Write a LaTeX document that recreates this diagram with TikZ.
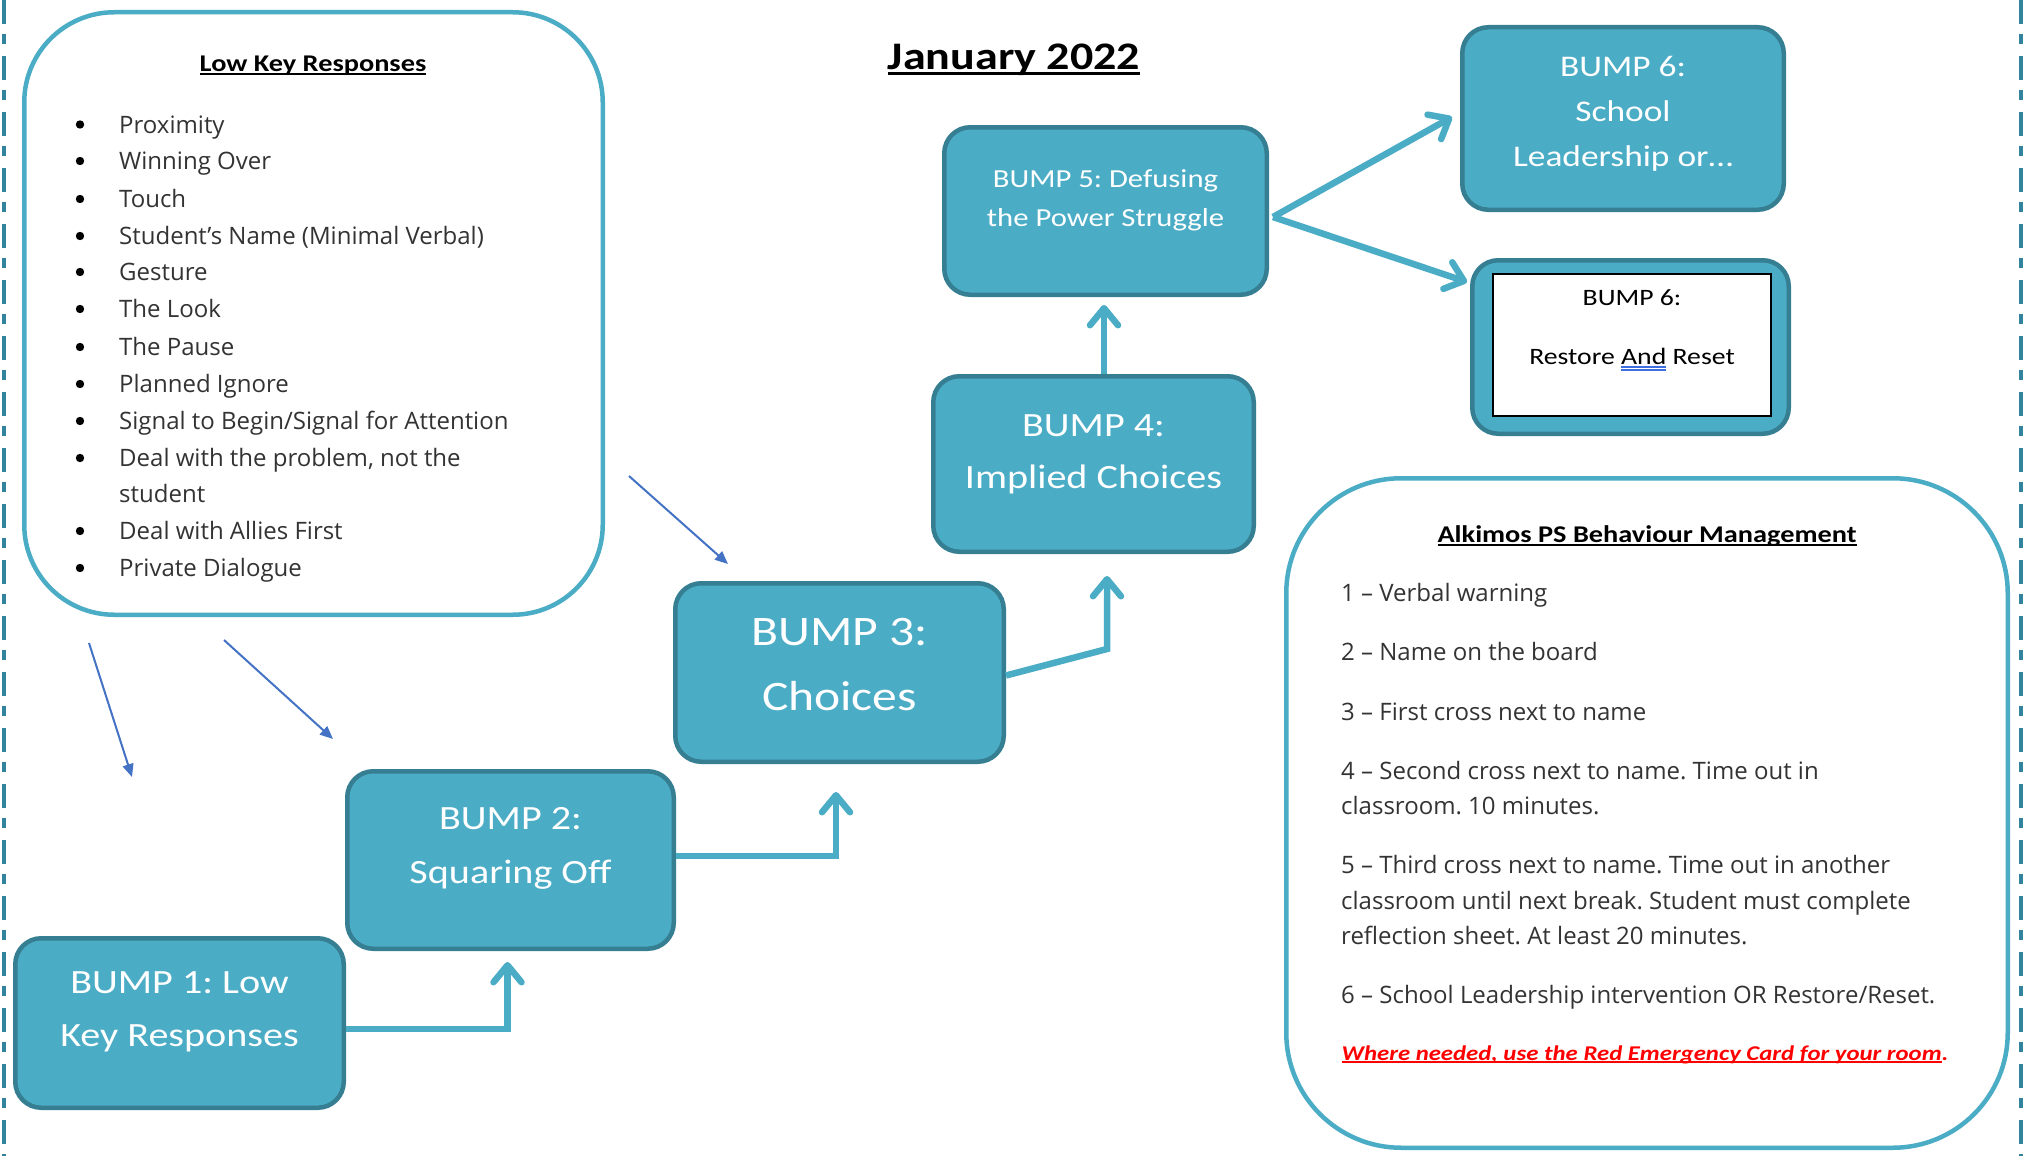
\documentclass[tikz,border=0pt]{standalone}
\usepackage{fontspec}
\setmainfont{Carlito}[FakeStretch=1.18]
\newfontfamily\bodyfont{Open Sans}
\usetikzlibrary{arrows.meta,calc}
\definecolor{bumpfill}{HTML}{4BACC6}
\definecolor{bumpline}{HTML}{367F93}
\definecolor{frameline}{HTML}{4BACC6}
\definecolor{thinblue}{HTML}{4472C4}
\definecolor{dashc}{HTML}{31849B}
\definecolor{bodytext}{HTML}{333333}
\definecolor{ulblue}{HTML}{3D6FE0}
\definecolor{redtext}{HTML}{FF0000}
\newsavebox\ulbox
\newcommand\myul[3]{\sbox\ulbox{#3}\rlap{\rule[-#1]{\wd\ulbox}{#2}}\usebox\ulbox}
\newcommand\dblul[1]{\sbox\ulbox{#1}\rlap{\textcolor{ulblue}{\rule[-3pt]{\wd\ulbox}{1.2pt}}}\rlap{\textcolor{ulblue}{\rule[-6pt]{\wd\ulbox}{1.2pt}}}\usebox\ulbox}
\newcommand\fs[1]{\fontsize{#1}{#1}\selectfont}
\frenchspacing
\begin{document}
\begin{tikzpicture}[x=1pt,y=-1pt,
  bump/.style={draw=bumpline, fill=bumpfill, line width=4.5pt, rounded corners=26pt, inner sep=0pt},
  frame/.style={draw=frameline, line width=4.5pt, inner sep=0pt},
  bt/.style={anchor=base, inner sep=0pt, text=white},
  lst/.style={anchor=base west, inner sep=0pt, text=bodytext, font=\bodyfont\fs{24}},
  conn/.style={draw=bumpfill, line width=6.5pt, -{Straight Barb[length=17pt,width=28pt,round]}},
  thinarrow/.style={draw=thinblue, line width=2pt, -{Triangle[length=13pt,width=11pt]}},
  dashline/.style={draw=dashc, line width=3.5pt, dash pattern=on 24pt off 10pt on 10pt off 12pt}
]
\fill[white] (0,0) rectangle (2024,1156);
\useasboundingbox (0,0) rectangle (2024,1156);

% page edge dashed lines
\draw[dashline] (4,0) -- (4,1156);
\draw[dashline] (2021,0) -- (2021,1156);

% Title
\node[anchor=base, inner sep=0pt] (title) at (1014,69.5) {\bfseries\fs{39}\myul{6pt}{3pt}{January 2022}};

% Low key frame
\node[frame, rounded corners=90pt, minimum width=578.5pt, minimum height=602.5pt] (lkframe) at (313.5,313.5) {};
\node[anchor=base, inner sep=0pt] (lktitle) at (313,71) {\bfseries\fs{24}\myul{3.5pt}{2pt}{Low Key Responses}};
\foreach \t/\y [count=\i] in {{Proximity}/133, {Winning Over}/169.5, {Touch}/207.5, {Student’s Name (Minimal Verbal)}/244.5, {Gesture}/280.5, {The Look}/317.5, {The Pause}/355.5, {Planned Ignore}/392.5, {Signal to Begin/Signal for Attention}/429.5, {Deal with the problem, not the}/466.5, {Deal with Allies First}/539.5, {Private Dialogue}/576.5}{
  \node[lst] (lk\i) at (119,\y) {\t};
  \fill[black] ($(lk\i.base west)+(-39,-8.5)$) circle (4.2pt);
}
\node[lst] (lkcont) at (119,502.5) {student};

% Behaviour frame
\node[frame, rounded corners=115pt, minimum width=721.5pt, minimum height=669.5pt] (bmframe) at (1647,813) {};
\node[anchor=base, inner sep=0pt] (bmtitle) at (1647,542.5) {\bfseries\fs{24}\myul{3.5pt}{2pt}{Alkimos PS Behaviour Management}};
\node[lst] (bm1) at (1341,601.5) {1 – Verbal warning};
\node[lst] (bm2) at (1341,660.5) {2 – Name on the board};
\node[lst] (bm3) at (1341,720.5) {3 – First cross next to name};
\node[lst] (bm4a) at (1341,779.5) {4 – Second cross next to name. Time out in};
\node[lst] (bm4b) at (1341,814.5) {classroom. 10 minutes.};
\node[lst] (bm5a) at (1341,873.5) {5 – Third cross next to name. Time out in another};
\node[lst] (bm5b) at (1341,909.5) {classroom until next break. Student must complete};
\node[lst] (bm5c) at (1341,944.5) {reflection sheet. At least 20 minutes.};
\node[lst] (bm6) at (1341,1003.5) {6 – School Leadership intervention OR Restore/Reset.};
\node[anchor=base, inner sep=0pt, text=redtext] (bmred) at (1645,1060) {\bfseries\itshape\fs{21}\myul{3pt}{1.6pt}{Where needed, use the Red Emergency Card for your room}.};

% Bump boxes
\node[bump, minimum width=328.5pt, minimum height=169.5pt] (b1) at (179.5,1023) {};
\node[bump, minimum width=326.5pt, minimum height=177.5pt] (b2) at (510.5,860) {};
\node[bump, minimum width=328.5pt, minimum height=178.5pt] (b3) at (839.5,672.5) {};
\node[bump, minimum width=320.5pt, minimum height=175.5pt] (b4) at (1093.5,464) {};
\node[bump, minimum width=322.5pt, minimum height=167.5pt] (b5) at (1105.5,211) {};
\node[bump, minimum width=321.5pt, minimum height=182.5pt] (b6a) at (1623,118.5) {};
\node[bump, minimum width=316.5pt, minimum height=173.5pt] (b6b) at (1630.5,347) {};
\node[draw=black, line width=1.5pt, fill=white, inner sep=0pt, minimum width=278pt, minimum height=142pt] (b6in) at (1632,345) {};

% Bump texts
\node[bt, font=\fs{34}] (b1t1) at (179.5,993) {BUMP 1: Low};
\node[bt, font=\fs{34}] (b1t2) at (179.5,1046) {Key Responses};
\node[bt, font=\fs{34}] (b2t1) at (510.5,829) {BUMP 2:};
\node[bt, font=\fs{34}] (b2t2) at (510.5,883) {Squaring Off};
\node[bt, font=\fs{42}] (b3t1) at (839.5,645.5) {BUMP 3:};
\node[bt, font=\fs{42}] (b3t2) at (839.5,710.5) {Choices};
\node[bt, font=\fs{34}] (b4t1) at (1093.5,436) {BUMP 4:};
\node[bt, font=\fs{34}] (b4t2) at (1093.5,488) {Implied Choices};
\node[bt, font=\fs{26}] (b5t1) at (1105.5,187) {BUMP 5: Defusing};
\node[bt, font=\fs{26}] (b5t2) at (1105.5,226) {the Power Struggle};
\node[bt, font=\fs{30}] (b6at1) at (1623,76.5) {BUMP 6:};
\node[bt, font=\fs{30}] (b6at2) at (1623,121.5) {School};
\node[bt, font=\fs{30}] (b6at3) at (1623,166.5) {Leadership or…};
\node[bt, text=black, font=\fs{23.5}] (b6bt1) at (1632,305.5) {BUMP 6:};
\node[bt, text=black, font=\fs{23.5}] (b6bt2) at (1632,364.5) {Restore \dblul{And} Reset};

% Thick connectors
\draw[conn] ($(b1.east)+(0,6)$) -| ($(b2.south)+(-3,11)$);
\draw[conn] ($(b2.east)+(0,-4)$) -| ($(b3.south)+(-3.5,28)$);
\draw[conn] ($(b3.east)+(0,3)$) -- ($(b4.south)+(13.5,95)$) -- ($(b4.south)+(13.5,22)$);
\draw[conn] ($(b4.north)+(10.5,0)$) -- ($(b5.south)+(-1.5,8)$);
\draw[conn] ($(b5.east)+(4,6)$) -- ($(b6a.west)+(-8,-1.5)$);
\draw[conn] ($(b5.east)+(4,6)$) -- ($(b6b.west)+(-3,-65)$);

% Thin blue arrows
\coordinate (ta1s) at (629,476); \coordinate (ta1e) at (728,564);
\coordinate (ta2s) at (89,643);  \coordinate (ta2e) at (132,777);
\coordinate (ta3s) at (224,640); \coordinate (ta3e) at (333,739);
\draw[thinarrow] (ta1s) -- (ta1e);
\draw[thinarrow] (ta2s) -- (ta2e);
\draw[thinarrow] (ta3s) -- (ta3e);
\end{tikzpicture}
\end{document}
